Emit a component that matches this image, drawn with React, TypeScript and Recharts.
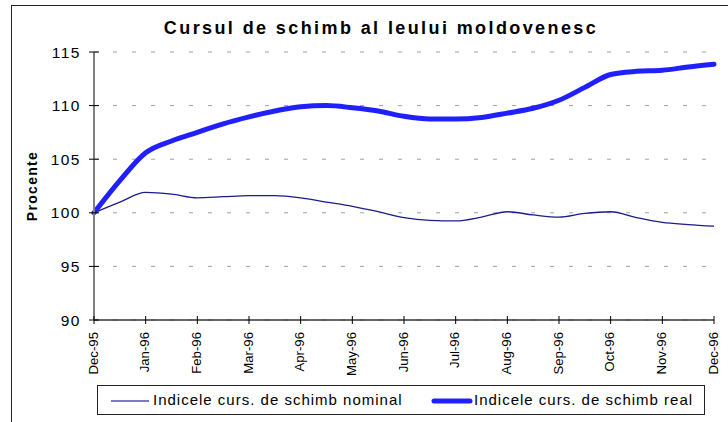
import { LineChart, Line, XAxis, YAxis, CartesianGrid } from 'recharts'

const months = [
  'Dec-95', 'Jan-96', 'Feb-96', 'Mar-96', 'Apr-96', 'May-96', 'Jun-96',
  'Jul-96', 'Aug-96', 'Sep-96', 'Oct-96', 'Nov-96', 'Dec-96',
]

// read every half month, Dec-95 .. Dec-96
const nominal = [
  100, 101.0, 101.9, 101.75, 101.4, 101.5, 101.6, 101.6, 101.4, 101.0, 100.6, 100.1,
  99.55, 99.3, 99.25, 99.6, 100.1, 99.8, 99.6, 99.95, 100.1, 99.55, 99.1, 98.9, 98.75,
]
const real = [
  100, 103.0, 105.6, 106.7, 107.5, 108.3, 108.95, 109.5, 109.9, 110.0, 109.8, 109.5,
  109.0, 108.75, 108.75, 108.9, 109.3, 109.75, 110.5, 111.7, 112.9, 113.2, 113.3, 113.6, 113.85,
]
const yTicks = [90, 95, 100, 105, 110, 115]

const names = ['Indicele curs. de schimb nominal', 'Indicele curs. de schimb real']
const colors = ['#1c1c8c', '#2020ff']
const widths = [1.3, 5]

const data = nominal.map((v, i) => ({ t: i / 2, nominal: v, real: real[i] }))
const monthTicks = months.map((_, i) => i)

const font = "'Liberation Sans', Arial, sans-serif"

function YTick(props: any) {
  const { x, y, payload } = props
  const ax = x + 14
  return (
    <g>
      <line x1={ax - 5} x2={ax + 5} y1={y} y2={y} stroke="#000" />
      <text x={x + 1} y={y} dy={5.5} textAnchor="end" fontSize={15.5} letterSpacing={1.5} fill="#000" fontFamily={font}>
        {payload.value}
      </text>
    </g>
  )
}

function XTick(props: any) {
  const { x, y, payload } = props
  const ay = y - 10
  return (
    <g>
      <line x1={x} x2={x} y1={ay - 4} y2={ay + 4} stroke="#000" />
      <text
        transform={`translate(${x + 3.8},${y + 2}) rotate(-90)`}
        textAnchor="end"
        fontSize={13.2}
        fill="#000"
        fontFamily={font}
      >
        {months[payload.value]}
      </text>
    </g>
  )
}

function YLabel(props: any) {
  const vb = props.viewBox
  const cx = vb.x + 37
  const cy = vb.y + vb.height / 2
  return (
    <text
      transform={`translate(${cx},${cy}) rotate(-90)`}
      textAnchor="middle"
      fontSize={14}
      fontWeight="bold"
      letterSpacing={1.3}
      fill="#000"
      fontFamily={font}
    >
      Procente
    </text>
  )
}

export default function App() {
  return (
    <div
      style={{
        position: 'absolute',
        left: 0,
        top: 0,
        width: 728,
        height: 422,
        overflow: 'hidden',
        background: '#fff',
        fontFamily: font,
      }}
    >
      <div
        style={{
          position: 'absolute',
          left: 11,
          top: 5,
          width: 760,
          height: 460,
          border: '1px solid #222',
        }}
      />
      <div
        style={{
          position: 'absolute',
          top: 18,
          left: 381,
          transform: 'translateX(-50%)',
          whiteSpace: 'nowrap',
          fontSize: 18,
          fontWeight: 'bold',
          letterSpacing: 2.4,
          color: '#000',
        }}
      >
        Cursul de schimb al leului moldovenesc
      </div>
      <div style={{ position: 'absolute', left: 0, top: 0 }}>
        <LineChart width={728} height={422} data={data} margin={{ top: 52, right: 14, left: 0, bottom: 42 }}>
          <CartesianGrid vertical={false} stroke="#a0a0a0" strokeDasharray="4 15" />
          <XAxis
            dataKey="t"
            type="number"
            domain={[0, 12]}
            ticks={monthTicks}
            interval={0}
            height={60}
            tickSize={5}
            tickMargin={5}
            tickLine={false}
            tick={<XTick />}
            axisLine={{ stroke: '#333', strokeWidth: 1.5 }}
          />
          <YAxis
            domain={[90, 115]}
            ticks={yTicks}
            interval={0}
            width={94}
            tickSize={5}
            tickMargin={9}
            tickLine={false}
            tick={<YTick />}
            axisLine={{ stroke: '#808080', strokeWidth: 2 }}
            label={{ content: <YLabel /> }}
          />
          <Line
            type="monotone"
            dataKey="nominal"
            name={names[0]}
            stroke={colors[0]}
            strokeWidth={widths[0]}
            dot={false}
            isAnimationActive={false}
          />
          <Line
            type="monotone"
            dataKey="real"
            name={names[1]}
            stroke={colors[1]}
            strokeWidth={widths[1]}
            strokeLinecap="round"
            dot={false}
            isAnimationActive={false}
          />
        </LineChart>
      </div>
      <div
        style={{
          position: 'absolute',
          left: 97,
          top: 385,
          width: 606,
          height: 28,
          border: '1px solid #222',
          fontSize: 15,
          letterSpacing: 1,
          color: '#000',
        }}
      >
        <svg width={606} height={28} style={{ position: 'absolute', left: 0, top: 0 }}>
          <line x1={13} x2={51} y1={15} y2={15} stroke="#5050b0" strokeWidth={1.5} />
          <line x1={336} x2={372} y1={15} y2={15} stroke={colors[1]} strokeWidth={5} strokeLinecap="round" />
        </svg>
        <span style={{ position: 'absolute', left: 55, top: 5, whiteSpace: 'nowrap' }}>{names[0]}</span>
        <span style={{ position: 'absolute', left: 376, top: 5, whiteSpace: 'nowrap' }}>{names[1]}</span>
      </div>
    </div>
  )
}
